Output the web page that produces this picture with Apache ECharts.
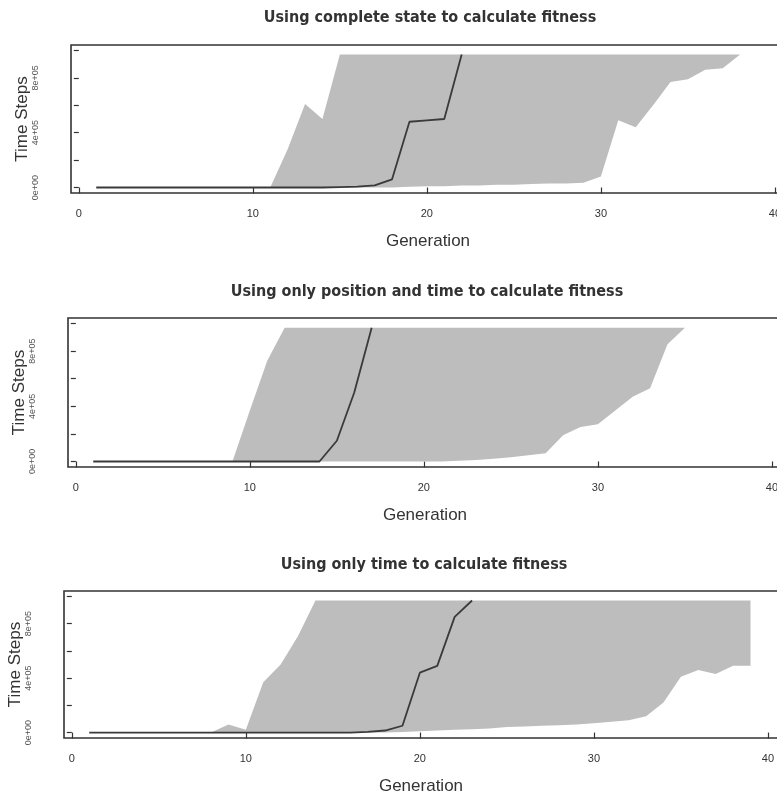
<!DOCTYPE html>
<html>
<head>
<meta charset="utf-8">
<title>Time steps per generation</title>
<script src="https://cdn.jsdelivr.net/npm/echarts@6/dist/echarts.min.js"></script>
<style>
    html, body { margin: 0; padding: 0; background: #fff; overflow: hidden; }
    /* the plot boxes run past the right edge of the window, as in the scan */
    #main { width: 830px; height: 795px; }
</style>
</head>
<body>
<div id="main"></div>
<script>
    // axis ticks and labels
    var xTickValues = [0, 10, 20, 30, 40];
    var yTickValues = [0, 200000, 400000, 600000, 800000, 1000000];
    var yLabelValues = [0, 400000, 800000];
    var yLabelText = ['0e+00', '4e+05', '8e+05'];

    var titles = [
        'Using complete state to calculate fitness',
        'Using only position and time to calculate fitness',
        'Using only time to calculate fitness'
    ];

    // panel 1 - complete state
    var bandGen1 = [11, 12, 13, 14, 15, 16, 17, 18, 19, 20, 21, 22, 23, 24, 25, 26, 27, 28, 29, 30, 31, 32, 33, 34, 35, 36, 37, 38];
    var upper1 = [0, 280000, 610000, 500000, 970000, 970000, 970000, 970000, 970000, 970000, 970000, 970000, 970000, 970000, 970000, 970000, 970000, 970000, 970000, 970000, 970000, 970000, 970000, 970000, 970000, 970000, 970000, 970000];
    var lower1 = [0, 0, 0, 0, 0, 0, 0, 0, 5000, 10000, 10000, 15000, 15000, 20000, 20000, 25000, 30000, 30000, 35000, 80000, 490000, 440000, 600000, 770000, 790000, 860000, 870000, 970000];
    var lineGen1 = [1, 2, 3, 4, 5, 6, 7, 8, 9, 10, 11, 12, 13, 14, 15, 16, 17, 18, 19, 20, 21, 22];
    var line1 = [0, 0, 0, 0, 0, 0, 0, 0, 0, 0, 0, 0, 0, 0, 3000, 6000, 15000, 60000, 480000, 490000, 500000, 970000];

    // panel 2 - position and time
    var bandGen2 = [9, 10, 11, 12, 13, 14, 15, 16, 17, 18, 19, 20, 21, 22, 23, 24, 25, 26, 27, 28, 29, 30, 31, 32, 33, 34, 35];
    var upper2 = [0, 370000, 730000, 970000, 970000, 970000, 970000, 970000, 970000, 970000, 970000, 970000, 970000, 970000, 970000, 970000, 970000, 970000, 970000, 970000, 970000, 970000, 970000, 970000, 970000, 970000, 970000];
    var lower2 = [0, 0, 0, 0, 0, 0, 0, 0, 0, 0, 0, 0, 0, 5000, 10000, 20000, 30000, 45000, 60000, 190000, 250000, 270000, 370000, 470000, 530000, 850000, 970000];
    var lineGen2 = [1, 2, 3, 4, 5, 6, 7, 8, 9, 10, 11, 12, 13, 14, 15, 16, 17];
    var line2 = [0, 0, 0, 0, 0, 0, 0, 0, 0, 0, 0, 0, 0, 0, 150000, 500000, 970000];

    // panel 3 - time only
    var bandGen3 = [8, 9, 10, 11, 12, 13, 14, 15, 16, 17, 18, 19, 20, 21, 22, 23, 24, 25, 26, 27, 28, 29, 30, 31, 32, 33, 34, 35, 36, 37, 38, 39];
    var upper3 = [0, 60000, 20000, 370000, 500000, 710000, 970000, 970000, 970000, 970000, 970000, 970000, 970000, 970000, 970000, 970000, 970000, 970000, 970000, 970000, 970000, 970000, 970000, 970000, 970000, 970000, 970000, 970000, 970000, 970000, 970000, 970000];
    var lower3 = [0, 0, 0, 0, 0, 0, 0, 0, 0, 0, 0, 5000, 10000, 15000, 20000, 25000, 30000, 40000, 45000, 50000, 53000, 60000, 68000, 80000, 90000, 120000, 220000, 410000, 460000, 430000, 490000, 490000];
    var lineGen3 = [1, 2, 3, 4, 5, 6, 7, 8, 9, 10, 11, 12, 13, 14, 15, 16, 17, 18, 19, 20, 21, 22, 23];
    var line3 = [0, 0, 0, 0, 0, 0, 0, 0, 0, 0, 0, 0, 0, 0, 0, 0, 5000, 15000, 50000, 440000, 490000, 850000, 970000];

    var panels = [
        { band: bandGen1, upper: upper1, lower: lower1, gen: lineGen1, line: line1, left: 71, top: 45, height: 148, titleX: 430, titleY: 18 },
        { band: bandGen2, upper: upper2, lower: lower2, gen: lineGen2, line: line2, left: 68, top: 318, height: 149, titleX: 427, titleY: 292 },
        { band: bandGen3, upper: upper3, lower: lower3, gen: lineGen3, line: line3, left: 64, top: 591, height: 147, titleX: 424, titleY: 565 }
    ];

    var myChart = echarts.init(document.getElementById('main'));

    var grids = [], xAxes = [], yAxes = [], series = [], graphics = [];

    panels.forEach(function (p, i) {
        graphics.push({
            type: 'text',
            x: p.titleX,
            y: p.titleY,
            style: {
                text: titles[i],
                textAlign: 'center',
                textVerticalAlign: 'middle',
                font: 'bold 16px "Liberation Sans Narrow", "DejaVu Sans Condensed", "Liberation Sans", sans-serif',
                fill: '#333'
            }
        });
        grids.push({
            left: p.left,
            top: p.top,
            width: 730,
            height: p.height,
            outerBoundsMode: 'none',
            show: true,
            borderColor: '#333',
            borderWidth: 1.6,
            backgroundColor: 'transparent'
        });
        xAxes.push({
            type: 'value',
            gridIndex: i,
            min: -0.45,
            max: 41.5,
            name: 'Generation',
            nameLocation: 'middle',
            nameGap: 40,
            nameMoveOverlap: false,
            nameTextStyle: { fontSize: 17, color: '#333', fontFamily: 'Liberation Sans', padding: [0, 16, 0, 0] },
            axisLine: { show: false },
            splitLine: { show: false },
            axisTick: { show: true, length: 6, customValues: xTickValues, lineStyle: { color: '#333', width: 1.2 } },
            axisLabel: { customValues: xTickValues, fontSize: 11, color: '#333', margin: 15, fontFamily: 'Liberation Sans' }
        });
        yAxes.push({
            type: 'value',
            gridIndex: i,
            min: -40000,
            max: 1040000,
            name: 'Time Steps',
            nameLocation: 'middle',
            nameRotate: 90,
            nameGap: 40,
            nameMoveOverlap: false,
            nameTextStyle: { fontSize: 17, color: '#333', fontFamily: 'Liberation Sans' },
            axisLine: { show: false },
            splitLine: { show: false },
            axisTick: { show: true, length: 5, customValues: yTickValues, lineStyle: { color: '#333', width: 1.2 } },
            axisLabel: {
                customValues: yLabelValues,
                rotate: 90,
                fontSize: 9,
                color: '#555',
                margin: 31,
                fontFamily: 'Liberation Sans',
                formatter: function (v) {
                    var k = yLabelValues.indexOf(v);
                    return k < 0 ? '' : yLabelText[k];
                }
            }
        });
        // grey band between the lower and upper curves
        series.push({
            type: 'custom',
            xAxisIndex: i,
            yAxisIndex: i,
            silent: true,
            clip: true,
            data: p.band.map(function (g, k) { return [g, p.lower[k], p.upper[k]]; }),
            encode: { x: 0, y: [1, 2] },
            renderItem: function (params, api) {
                if (params.dataIndex !== 0) return;
                var pts = [];
                for (var k = 0; k < p.band.length; k++) {
                    pts.push(api.coord([p.band[k], p.upper[k]]));
                }
                for (var k = p.band.length - 1; k >= 0; k--) {
                    pts.push(api.coord([p.band[k], p.lower[k]]));
                }
                return {
                    type: 'polygon',
                    shape: { points: pts },
                    style: { fill: '#bdbdbd', stroke: null }
                };
            }
        });
        series.push({
            type: 'line',
            xAxisIndex: i,
            yAxisIndex: i,
            symbol: 'none',
            silent: true,
            data: p.gen.map(function (g, k) { return [g, p.line[k]]; }),
            lineStyle: { color: '#3a3a3a', width: 1.8 },
            z: 3
        });
    });

    var option = {
        animation: false,
        backgroundColor: '#fff',
        graphic: graphics,
        grid: grids,
        xAxis: xAxes,
        yAxis: yAxes,
        series: series
    };
    myChart.setOption(option);
</script>
</body>
</html>
